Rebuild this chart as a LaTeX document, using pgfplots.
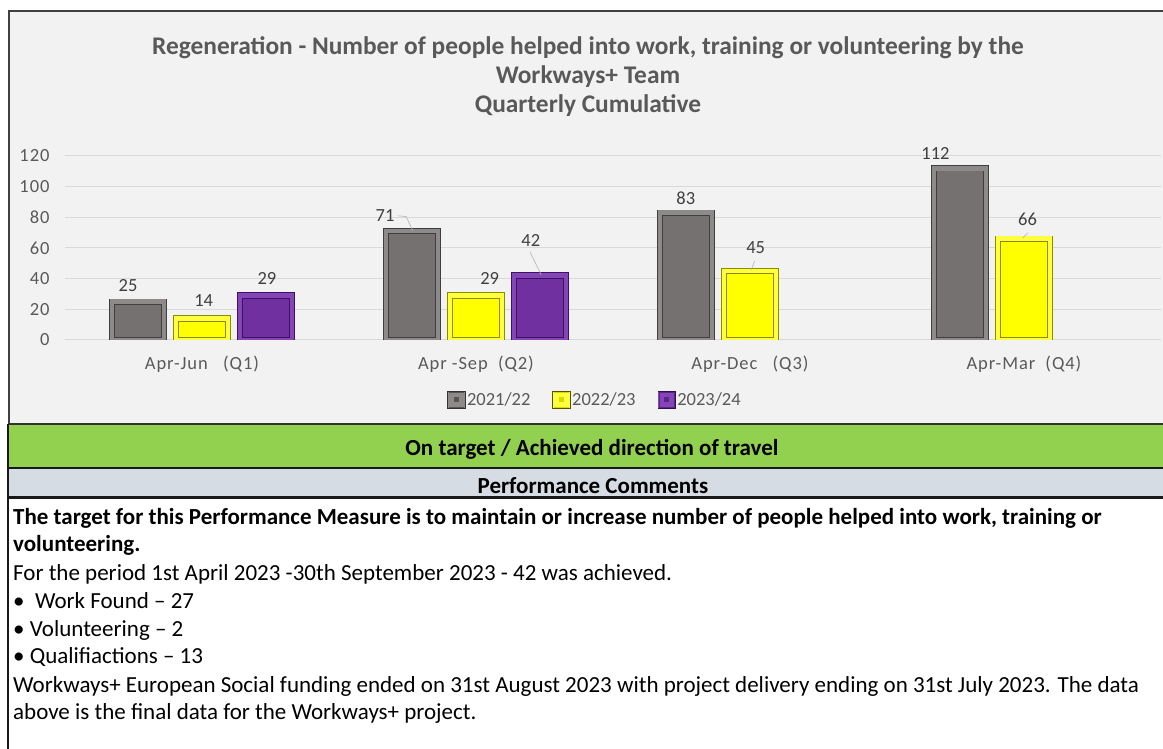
\documentclass[border=0pt]{standalone}
\usepackage{fontspec}
\setmainfont{Carlito}
\newfontfamily\tickfont[LetterSpace=5]{Carlito}
\usepackage{pgfplots}
\pgfplotsset{compat=1.18}
\definecolor{panel}{HTML}{F2F2F2}
\definecolor{okgreen}{HTML}{92D050}
\definecolor{hdr}{HTML}{D6DCE4}
\definecolor{txtgray}{HTML}{595959}
\definecolor{lblgray}{HTML}{404040}
\definecolor{gridc}{HTML}{D9D9D9}
\definecolor{barG}{HTML}{767171}
\definecolor{barGedge}{HTML}{3F3F3F}
\definecolor{barGband}{HTML}{8E8A8A}
\definecolor{barY}{HTML}{FFFF00}
\definecolor{barYedge}{HTML}{8C8C00}
\definecolor{barYband}{HTML}{FFFF40}
\definecolor{barP}{HTML}{7030A0}
\definecolor{barPedge}{HTML}{3A1460}
\definecolor{barPband}{HTML}{8544B8}
\pgfplotstableread{
x y
0 25
1 71
2 83
3 112
}\seriesA
\pgfplotstableread{
x y
0 14
1 29
2 45
3 66
}\seriesB
\pgfplotstableread{
x y
0 29
1 42
}\seriesC
\begin{document}
\begin{tikzpicture}[x=1pt,y=1pt]
\useasboundingbox (0,0) rectangle (1163,749);
\fill[white] (0,0) rectangle (1163,749);
% chart panel
\fill[panel] (9,325) rectangle (1163,738);
\draw[line width=2pt, black!75] (9,325) -- (9,738) -- (1163,738);
% green band
\fill[okgreen] (8,281) rectangle (1163,325);
\draw[line width=2.5pt, black!80] (8,325) -- (1163,325);
\draw[line width=2.5pt, black!90] (8,280.5) -- (1163,280.5);
% header band
\fill[hdr] (8,252) rectangle (1163,279.5);
\draw[line width=3pt, black!90] (8,251) -- (1163,251);
\draw[line width=2pt, black!90] (8,0) -- (8,325);
% titles
\begin{scope}[every node/.style={font=\fontsize{25.4}{29}\selectfont\bfseries, text=txtgray, inner sep=0pt, text height=17pt, text depth=5pt}]
\node at (588,700) {Regeneration - Number of people helped into work, training or volunteering by the};
\node at (588,671) {Workways+ Team};
\node at (588,642) {Quarterly Cumulative};
\end{scope}
\node[font=\fontsize{23}{27}\selectfont\bfseries, text=black, inner sep=0pt, text height=16pt, text depth=5pt] at (592,299) {On target / Achieved direction of travel};
\node[font=\fontsize{23}{27}\selectfont\bfseries, text=black, inner sep=0pt, text height=16pt, text depth=5pt] at (593,260.5) {Performance Comments};
% comments
\begin{scope}[every node/.style={anchor=west, inner sep=0pt, text height=16pt, text depth=5pt, font=\fontsize{23}{27}\selectfont}]
\node[font=\fontsize{23}{27}\selectfont\bfseries] at (13,230) {The target for this Performance Measure is to maintain or increase number of people helped into work, training or};
\node[font=\fontsize{23}{27}\selectfont\bfseries] at (13,203) {volunteering.};
\node at (13,174) {For the period 1st April 2023 -30th September 2023 - 42 was achieved.};
\node at (13,146) {•\ \ Work Found – 27};
\node at (13,118) {• Volunteering – 2};
\node at (13,91) {• Qualifiactions – 13};
\node at (13,62) {Workways+ European Social funding ended on 31st August 2023 with project delivery ending on 31st July 2023. The data};
\node at (13,35) {above is the final data for the Workways+ project.};
\end{scope}
\begin{axis}[
  at={(65pt,409pt)}, anchor=south west,
  scale only axis, width=1096pt, height=184pt,
  xmin=-0.5, xmax=3.5, ymin=0, ymax=120,
  ytick={0,20,...,120},
  xtick={0,1,2,3},
  xticklabels={Apr-Jun\ \ \ (Q1), Apr -Sep\ \ (Q2), Apr-Dec\ \ \ (Q3), Apr-Mar\ \ (Q4)},
  axis line style={draw=none},
  major tick length=0pt,
  /pgf/number format/assume math mode=true,
  ymajorgrids, grid style={gridc, line width=1pt},
  tick label style={font=\tickfont\fontsize{18.5}{22}\selectfont, text=txtgray},
  yticklabel style={xshift=-12pt},
  xticklabel style={yshift=-12pt},
  ybar, clip mode=individual,
  legend columns=3,
  legend style={at={(0.4836,-0.326)}, anchor=center, draw=none, fill=none,
    font=\fontsize{18.5}{22}\selectfont, text=txtgray,
    /tikz/every even column/.append style={column sep=20pt}},
  legend cell align=left,
]
\addplot[bar shift=-64pt, bar width=52pt, draw=barGedge, line width=0.8pt, double=barGband, double distance=4.6pt, fill=barG,
  legend image code/.code={\useasboundingbox (3pt,-6pt) rectangle (14.5pt,6pt); \fill[black!80] (3pt,-6pt) rectangle (15pt,6pt); \fill[barG!75!black] (4.2pt,-4.8pt) rectangle (13.8pt,4.8pt);}] table[x=x,y=y] {\seriesA};
\addlegendentry{2021/22}
\addplot[bar shift=0pt, bar width=52pt, draw=barYedge, line width=0.8pt, double=barYband, double distance=4.6pt, fill=barY,
  legend image code/.code={\useasboundingbox (3pt,-6pt) rectangle (14.5pt,6pt); \fill[barYedge!60!black] (3pt,-6pt) rectangle (15pt,6pt); \fill[barY!85!black] (4.2pt,-4.8pt) rectangle (13.8pt,4.8pt);}] table[x=x,y=y] {\seriesB};
\addlegendentry{2022/23}
\addplot[bar shift=64pt, bar width=52pt, draw=barPedge, line width=0.8pt, double=barPband, double distance=4.6pt, fill=barP,
  legend image code/.code={\useasboundingbox (3pt,-6pt) rectangle (14.5pt,6pt); \fill[barPedge!80!black] (3pt,-6pt) rectangle (15pt,6pt); \fill[barP!80!black] (4.2pt,-4.8pt) rectangle (13.8pt,4.8pt);}] table[x=x,y=y] {\seriesC};
\addlegendentry{2023/24}
% data labels
\begin{scope}[every node/.style={font=\fontsize{18.5}{22}\selectfont, text=lblgray, inner sep=0pt}]
\node at (axis cs:-0.27,35.5) {25};
\node at (axis cs:0.006,25.5) {14};
\node at (axis cs:0.237,39.8) {29};
\node at (axis cs:0.668,80.9) {71};
\node at (axis cs:1.05,39.8) {29};
\node at (axis cs:1.2,65) {42};
\node at (axis cs:1.766,92.6) {83};
\node at (axis cs:2.021,60) {45};
\node at (axis cs:2.677,121.5) {112};
\node at (axis cs:3.013,78.7) {66};
\end{scope}
\draw[gray!60, line width=0.6pt] (axis cs:0.716,81) -- (axis cs:0.745,80.5) -- (axis cs:0.77,71);
\draw[gray!60, line width=0.6pt] (axis cs:1.197,57.5) -- (axis cs:1.238,42.5);
\draw[gray!60, line width=0.6pt] (axis cs:2.017,51.5) -- (axis cs:2.004,45.5);
\draw[gray!60, line width=0.6pt] (axis cs:3.015,70) -- (axis cs:2.995,66.5);
\end{axis}
\end{tikzpicture}
\end{document}
